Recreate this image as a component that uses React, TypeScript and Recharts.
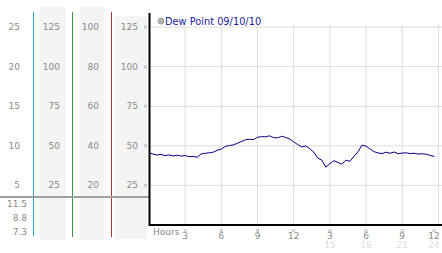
import React from 'react';
import { LineChart, Line, XAxis, YAxis, CartesianGrid } from 'recharts';

const hours = [0,0.33,0.67,1,1.33,1.67,2,2.33,2.67,3,3.33,3.67,4,4.33,4.67,5,5.33,5.67,6,6.33,6.67,7,7.33,7.67,8,8.33,8.67,9,9.33,9.67,10,10.33,10.67,11,11.33,11.67,12,12.33,12.67,13,13.33,13.67,14,14.33,14.67,15,15.33,15.67,16,16.33,16.67,17,17.33,17.67,18,18.33,18.67,19,19.33,19.67,20,20.33,20.67,21,21.33,21.67,22,22.33,22.67,23,23.33,23.67];
const dewPoint = [45.7,44.8,44.2,44.6,43.8,44.3,43.6,44.1,43.5,43.9,43.1,43.3,42.8,44.9,45.3,45.6,46.0,47.2,48.0,49.6,50.2,50.6,51.6,52.7,53.8,54.1,54.0,55.4,55.8,55.7,56.3,55.2,55.0,56.0,55.3,54.4,52.5,50.8,49.3,49.9,48.2,46.0,42.2,41.0,36.5,38.8,40.6,39.5,38.4,40.9,40.2,43.3,46.2,50.5,49.8,48.0,46.3,45.5,45.1,46.0,45.3,46.1,45.0,45.4,45.6,45.1,45.3,44.8,45.0,44.7,43.9,43.3];

const xTicks = [3, 6, 9, 12, 15, 18, 21, 24];
const xTickLabels = ['3', '6', '9', '12', '3', '6', '9', '12'];
const xTickLabels2 = ['', '', '', '', '15', '18', '21', '24'];

const mainTicks = [25, 50, 75, 100, 125];
const col2Ticks = [25, 50, 75, 100, 125];
const col3Ticks = [20, 40, 60, 80, 100];
const col1Ticks = [5, 10, 15, 20, 25];
const lowerLabels = ['11.5', '8.8', '7.3'];

const legendLabel = 'Dew Point 09/10/10';
const axisTitle = 'Hours';

const data = hours.map((h, i) => ({ h, v: dewPoint[i] }));

const FONT = 'DejaVu Sans, Verdana, sans-serif';
const GRAY = '#8a8a8a';

const Mark = ({ x, y }: { x: number; y: number }) => (
  <g fill="#aaa">
    <rect x={x} y={y} width={1} height={1} />
    <rect x={x + 2} y={y} width={1} height={1} />
    <rect x={x + 1} y={y + 1} width={1} height={1} />
    <rect x={x} y={y + 2} width={1} height={1} />
    <rect x={x + 2} y={y + 2} width={1} height={1} />
  </g>
);

const makeYTick = (offset: number, mark: boolean) => (props: any) => {
  const { x, y, payload } = props;
  return (
    <g>
      <text x={x - offset} y={y + 3} textAnchor="end" fontFamily={FONT} fontSize={9} fill={GRAY}>
        {payload.value}
      </text>
      {mark ? <Mark x={x - 5} y={y - 1.5} /> : null}
    </g>
  );
};

const XTick = (props: any) => {
  const { x, y, payload } = props;
  const idx = xTicks.indexOf(payload.value);
  return (
    <g>
      <Mark x={x - 1.5} y={y + 4} />
      <text x={x} y={y + 14} textAnchor="middle" fontFamily={FONT} fontSize={9} fill={GRAY}>
        {xTickLabels[idx]}
      </text>
      {xTickLabels2[idx] ? (
        <text x={x} y={y + 23} textAnchor="middle" fontFamily={FONT} fontSize={9} fill="#dddddd">
          {xTickLabels2[idx]}
        </text>
      ) : null}
    </g>
  );
};

const MAIN_MAX = 126.3;

export default function App() {
  return (
    <div style={{ position: 'absolute', left: 0, top: 0, width: 442, height: 253, background: '#fff', overflow: 'hidden' }}>
      <svg width={442} height={253} style={{ position: 'absolute', left: 0, top: 0 }}>
        <rect x={40} y={7} width={26} height={233} fill="#f4f4f4" />
        <rect x={80} y={7} width={24} height={233} fill="#f4f4f4" />
        <rect x={115} y={16} width={32} height={223} fill="#f4f4f4" />
      </svg>
      <div style={{ position: 'absolute', left: 0, top: 0 }}>
        <LineChart width={442} height={253} data={data} margin={{ top: 25, right: 0, bottom: 0, left: 0 }}>
          <CartesianGrid stroke="#dddddd" yAxisId="y1main" horizontalValues={mainTicks} verticalValues={xTicks} />
          <XAxis
            dataKey="h"
            type="number"
            domain={[0, 24.3]}
            ticks={xTicks}
            height={28}
            tick={XTick}
            tickSize={0}
            tickMargin={0}
            tickLine={false}
            axisLine={{ stroke: '#000', strokeWidth: 2 }}
            allowDataOverflow
          />
          <YAxis yAxisId="y1main" width={38} domain={[0, MAIN_MAX]} ticks={mainTicks} tick={makeYTick(11, true)} tickSize={0} tickMargin={0} tickLine={false} axisLine={false} allowDataOverflow />
          <YAxis yAxisId="y2c3" width={38} domain={[0, MAIN_MAX * 0.8]} ticks={col3Ticks} tick={makeYTick(12, false)} tickSize={0} tickMargin={0} tickLine={false} axisLine={false} allowDataOverflow />
          <YAxis yAxisId="y3c2" width={40} domain={[0, MAIN_MAX]} ticks={col2Ticks} tick={makeYTick(13, false)} tickSize={0} tickMargin={0} tickLine={false} axisLine={false} allowDataOverflow />
          <YAxis yAxisId="y4c1" width={33} domain={[0, MAIN_MAX / 5]} ticks={col1Ticks} tick={makeYTick(13, false)} tickSize={0} tickMargin={0} tickLine={false} axisLine={false} allowDataOverflow />
          <Line yAxisId="y1main" dataKey="v" stroke="#000088" strokeWidth={1} dot={false} isAnimationActive={false} />
        </LineChart>
      </div>
      <svg width={442} height={253} style={{ position: 'absolute', left: 0, top: 0, pointerEvents: 'none' }}>
        <line x1={33.5} y1={12} x2={33.5} y2={236} stroke="#2aa3c9" strokeWidth={1} />
        <line x1={72.5} y1={12} x2={72.5} y2={237} stroke="#3a9a3a" strokeWidth={1} />
        <line x1={111.5} y1={12} x2={111.5} y2={237} stroke="#b03535" strokeWidth={1} />
        <rect x={0} y={196} width={149} height={2} fill="#a0a0a0" />
        <rect x={148.5} y={13} width={2} height={213} fill="#000" />
        {lowerLabels.map((t, i) => (
          <text key={t} x={27} y={207 + i * 14} textAnchor="end" fontFamily={FONT} fontSize={9} fill={GRAY}>
            {t}
          </text>
        ))}
        <text x={153} y={235} fontFamily={FONT} fontSize={9} fill={GRAY}>{axisTitle}</text>
        <circle cx={161} cy={21} r={3} fill="#b5b5b5" stroke="#909090" strokeWidth={0.8} />
        <text x={165} y={24.5} fontFamily={FONT} fontSize={9.8} fill="#1c1ca0">{legendLabel}</text>
      </svg>
    </div>
  );
}
